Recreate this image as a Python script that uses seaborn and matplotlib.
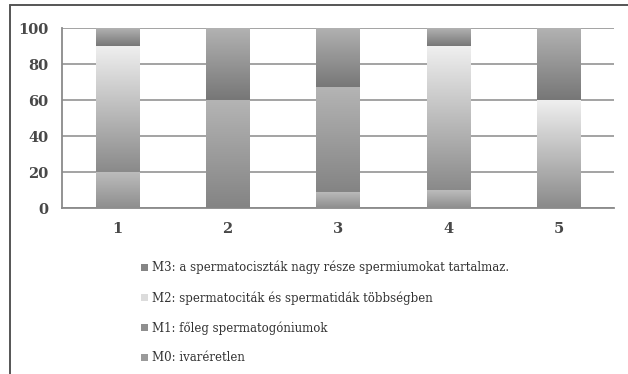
import numpy as np
import pandas as pd
import matplotlib
matplotlib.use("Agg")
import matplotlib.pyplot as plt
from matplotlib.patches import Patch
from matplotlib.lines import Line2D
from matplotlib.colors import to_rgb
import seaborn as sns

# Share of each maturity stage per group (percent)
groups = ["1", "2", "3", "4", "5"]
m0 = [20, 0, 9, 10, 0]
m1 = [0, 60, 58, 0, 0]
m2 = [70, 0, 0, 80, 60]
m3 = [10, 40, 33, 10, 40]

series_labels = [
    "M0: ivaréretlen",
    "M1: főleg spermatogóniumok",
    "M2: spermatociták és spermatidák többségben",
    "M3: a spermatociszták nagy része spermiumokat tartalmaz.",
]

# vertical gradient (top colour, bottom colour) for each stage
gradients = [
    ("#bcbcbc", "#8e8e8e"),
    ("#b4b4b4", "#848484"),
    ("#efefef", "#8a8a8a"),
    ("#b2b2b2", "#777777"),
]
legend_colors = ["#9a9a9a", "#8f8f8f", "#dcdcdc", "#858585"]

sns.set_style("white")
plt.rcParams["font.family"] = ["DejaVu Serif"]

df = pd.DataFrame({"group": groups, "M0": m0, "M1": m1, "M2": m2, "M3": m3})
stages = ["M0", "M1", "M2", "M3"]
cum = df[stages].cumsum(axis=1)

fig = plt.figure(figsize=(6.28, 3.74), dpi=100)
ax = fig.add_axes([62 / 628, 1 - 208 / 374, (614 - 62) / 628, 180 / 374])

# draw cumulative totals from the tallest down so each layer sits on the previous one
bar_w = 0.39
layers = {}
for k in reversed(range(4)):
    n_before = len(ax.patches)
    sns.barplot(x=df["group"], y=cum[stages[k]], order=groups, width=bar_w,
                color=gradients[k][1], saturation=1, ax=ax, zorder=2,
                linewidth=0)
    layers[k] = ax.patches[n_before:]

# replace flat fills with vertical gradients per segment
for k in range(4):
    top_c = np.array(to_rgb(gradients[k][0]))
    bot_c = np.array(to_rgb(gradients[k][1]))
    t = np.linspace(0, 1, 128)[:, None, None]
    img = top_c[None, None, :] * (1 - t) + bot_c[None, None, :] * t
    for i, p in enumerate(layers[k]):
        top = p.get_height()
        bottom = cum[stages[k - 1]].iloc[i] if k > 0 else 0
        if top - bottom <= 0:
            continue
        x0 = p.get_x()
        ax.imshow(img, extent=(x0, x0 + p.get_width(), bottom, top),
                  origin="upper", aspect="auto", interpolation="bilinear",
                  zorder=3)

ax.set_xlim(-0.5, 4.5)
ax.set_ylim(0, 100)
ax.set_yticks([0, 20, 40, 60, 80, 100])
ax.set_xlabel("")
ax.set_ylabel("")

grid_c = "#9c9c9c"
ax.grid(axis="y", color=grid_c, linewidth=1.3, zorder=0)
ax.set_axisbelow(True)
for s in ["top", "right"]:
    ax.spines[s].set_visible(False)
for s in ["left", "bottom"]:
    ax.spines[s].set_color("#8a8a8a")
    ax.spines[s].set_linewidth(1.3)

ax.tick_params(axis="y", direction="out", length=5, width=1.3, color="#8a8a8a",
               pad=5, labelsize=10.5, labelcolor="#484848")
ax.tick_params(axis="x", which="major", length=0, pad=10, labelsize=10.5,
               labelcolor="#484848")
ax.set_xticks(np.arange(-0.5, 5.0, 1.0), minor=True)
ax.tick_params(axis="x", which="minor", direction="out", length=4, width=1.3,
               color="#8a8a8a")
for lab in ax.get_xticklabels() + ax.get_yticklabels():
    lab.set_fontweight("bold")

# legend below the plot, highest stage first
handles = [Patch(facecolor=legend_colors[k], edgecolor="none") for k in reversed(range(4))]
labels = [series_labels[k] for k in reversed(range(4))]
leg = fig.legend(handles, labels, loc="upper left",
                 bbox_to_anchor=(141 / 628, 1 - 261 / 374),
                 frameon=False, fontsize=8.45, handlelength=0.6,
                 handleheight=0.6, handletextpad=0.35, labelspacing=1.42,
                 borderaxespad=0, borderpad=0)
for txt in leg.get_texts():
    txt.set_color("#333333")

# outer frame along the top and left edges
fig.add_artist(Line2D([10 / 628, 1.0], [1 - 5 / 374, 1 - 5 / 374],
                      transform=fig.transFigure, color="#555555", linewidth=1.4))
fig.add_artist(Line2D([10 / 628, 10 / 628], [0, 1 - 5 / 374],
                      transform=fig.transFigure, color="#555555", linewidth=1.4))

fig.savefig("out.png", dpi=100)
